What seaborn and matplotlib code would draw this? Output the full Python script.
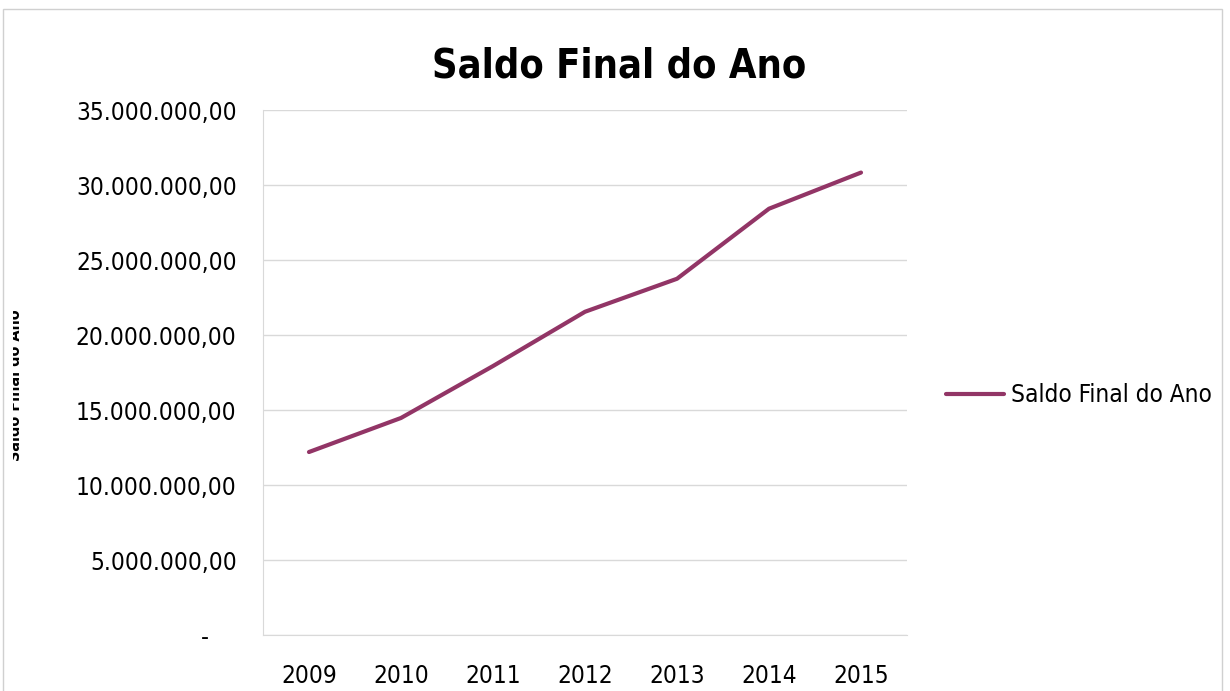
import matplotlib
matplotlib.use("Agg")
import matplotlib.pyplot as plt
import matplotlib.ticker as mticker
from matplotlib.patches import Rectangle
from matplotlib.transforms import Bbox, TransformedBbox
import seaborn as sns
import pandas as pd

sns.set_style("white")
plt.rcParams["font.family"] = ["DejaVu Sans"]
plt.rcParams["font.stretch"] = "condensed"
plt.rcParams["text.color"] = "black"
plt.rcParams["xtick.color"] = "black"
plt.rcParams["ytick.color"] = "black"

anos = ["2009", "2010", "2011", "2012", "2013", "2014", "2015"]
saldo = [12200000, 14470000, 17930000, 21550000, 23750000, 28420000, 30830000]
serie = "Saldo Final do Ano"

df = pd.DataFrame({"ano": anos, "saldo": saldo})
df["pos"] = range(len(anos))

cor = "#923566"

fig = plt.figure(figsize=(12.3, 6.91), dpi=100)
ax = fig.add_axes([0.2138, 0.081, 0.5236, 0.7598])

sns.lineplot(data=df, x="pos", y="saldo", ax=ax, color=cor, linewidth=3, label=serie)

ax.set_xlim(-0.5, len(anos) - 0.5)
ax.set_ylim(0, 35000000)
ax.set_xticks(df["pos"])
ax.set_xticklabels(anos)
ax.yaxis.set_major_locator(mticker.MultipleLocator(5000000))


def fmt(v, _):
    if v == 0:
        return "-    "
    return f"{v:,.2f}".replace(",", "X").replace(".", ",").replace("X", ".")


ax.yaxis.set_major_formatter(mticker.FuncFormatter(fmt))
ax.tick_params(axis="y", length=0, pad=19, labelsize=17.5)
ax.tick_params(axis="x", length=0, pad=21, labelsize=17.5)
for lb in ax.get_xticklabels() + ax.get_yticklabels():
    lb.set_fontstretch("condensed")
ax.grid(axis="y", color="#d9d9d9", linewidth=1)
for s in ["top", "right"]:
    ax.spines[s].set_visible(False)
for s in ["left", "bottom"]:
    ax.spines[s].set_color("#d9d9d9")
ax.set_xlabel("")
ax.set_ylabel("")

fig.text(0.5037, 0.904, "Saldo Final do Ano", ha="center", va="center",
         fontsize=28.5, fontweight="bold", fontstretch="condensed")

# rotulo do eixo y, cortado na borda
yl = fig.text(23 / 1230, 0.443, "Saldo Final do Ano", rotation=90, ha="right",
              va="center", fontsize=11.5, fontweight="bold", fontstretch="condensed")
yl.set_clip_on(True)
yl.set_clip_box(TransformedBbox(Bbox([[13 / 1230, 0], [40 / 1230, 1]]), fig.transFigure))

leg = ax.legend(loc="center left", bbox_to_anchor=(1.06, 0.457), frameon=False,
                fontsize=17.5, handlelength=2.4, handletextpad=0.3,
                borderaxespad=0, borderpad=0)
for t in leg.get_texts():
    t.set_fontstretch("condensed")

fig.patches.append(Rectangle((3 / 1230, -0.02), 1219 / 1230, 1.007,
                             transform=fig.transFigure, fill=False,
                             edgecolor="#d0d0d0", linewidth=1))

fig.savefig("out.png", dpi=100)
